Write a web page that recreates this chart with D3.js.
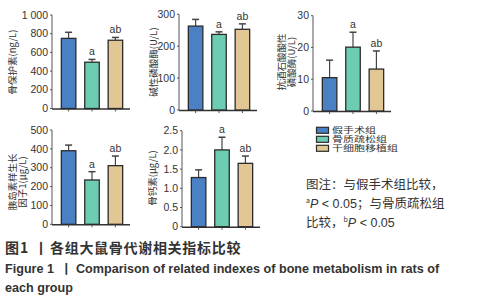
<!DOCTYPE html>
<html><head><meta charset="utf-8">
<script src="https://cdn.jsdelivr.net/npm/d3@7"></script>
<style>
body{margin:0;background:#fff;}
text{font-family:"Liberation Sans","Noto Sans CJK SC",sans-serif;}
.cjk{font-family:"Noto Sans CJK SC",sans-serif;}
</style></head>
<body><svg id="c" width="478" height="300"></svg>
<script>
const groups = ["假手术组","骨质疏松组","干细胞移植组"];
const colors = ["#4a80c4","#6dcdb3","#e2c794"];
const sigLabels = ["","a","ab"];
// panel data
const opgMean = [750, 495, 730];
const opgErr  = [815, 525, 760];
const alpMean = [263, 237, 253];
const alpErr  = [284, 245, 270];
const tracpMean = [10.5, 20.1, 13.2];
const tracpErr  = [16.0, 24.8, 18.9];
const igfMean = [390, 235, 311];
const igfErr  = [420, 279, 362];
const bgpMean = [1.28, 2.0, 1.65];
const bgpErr  = [1.48, 2.33, 1.84];
const opgTicks = [0,200,400,600,800,1000];
const alpTicks = [0,100,200,300];
const tracpTicks = [0,10,20,30];
const igfTicks = [0,100,200,300,400,500];
const bgpTicks = [0,0.5,1.0,1.5,2.0,2.5];

const svg = d3.select("#c");

function panel(o){
  const g = svg.append("g");
  const y = d3.scaleLinear().domain([0,o.max]).range([o.y0,o.y1]);
  const x = d3.scaleBand().domain(groups).range([o.x0+7,o.x0+73]).paddingInner(0.38).paddingOuter(0.1);
  g.append("line").attr("x1",o.x0).attr("x2",o.x0).attr("y1",y(0)).attr("y2",y(o.max)).attr("stroke","#555").attr("stroke-width",1);
  g.append("line").attr("x1",o.x0).attr("x2",o.x0+78).attr("y1",y(0)+0.5).attr("y2",y(0)+0.5).attr("stroke","#333").attr("stroke-width",1.5);
  o.ticks.forEach(t=>{
    g.append("line").attr("x1",o.x0-2).attr("x2",o.x0).attr("y1",y(t)).attr("y2",y(t)).attr("stroke","#555");
    g.append("text").attr("x",o.x0-4).attr("y",y(t)).attr("dy","0.35em").attr("text-anchor","end")
      .attr("font-size",10.5).attr("fill","#333").text(o.fmt(t));
  });
  groups.forEach((k,i)=>{
    const cx = x(k)+x.bandwidth()/2;
    g.append("line").attr("x1",cx).attr("x2",cx).attr("y1",y(0)).attr("y2",y(0)+3).attr("stroke","#555");
    g.append("line").attr("x1",cx).attr("x2",cx).attr("y1",y(o.mean[i])).attr("y2",y(o.err[i])).attr("stroke","#444").attr("stroke-width",1.2);
    g.append("line").attr("x1",cx-3.5).attr("x2",cx+3.5).attr("y1",y(o.err[i])).attr("y2",y(o.err[i])).attr("stroke","#444").attr("stroke-width",1.5);
    g.append("rect").attr("x",x(k)).attr("y",y(o.mean[i])).attr("width",x.bandwidth()).attr("height",y(0)-y(o.mean[i]))
      .attr("fill",colors[i]).attr("stroke","#2b2b2b").attr("stroke-width",1.3);
    if(sigLabels[i]) g.append("text").attr("x",cx).attr("y",y(o.err[i])-4).attr("text-anchor","middle")
      .attr("font-size",10.5).attr("fill","#333").text(sigLabels[i]);
  });
  const lab = g.append("text").attr("class","cjk").attr("transform",`translate(${o.lx},${o.ly}) rotate(-90)`)
    .attr("text-anchor","middle").attr("font-size",9.5).attr("fill","#333");
  o.label.forEach((l,j)=>lab.append("tspan").attr("x",0).attr("dy",j?10:0).text(l));
}
const f0 = d=>d===1000?"1 000":String(d);
const f1 = d=>d===0?"0":d.toFixed(1);
panel({x0:52,y0:108.5,y1:15,max:1000,ticks:opgTicks,fmt:f0,mean:opgMean,err:opgErr,label:["骨保护素(ng/L)"],lx:16,ly:62});
panel({x0:179,y0:110,y1:14.3,max:300,ticks:alpTicks,fmt:f0,mean:alpMean,err:alpErr,label:["碱性磷酸酶(U/L)"],lx:157,ly:62});
panel({x0:313,y0:111,y1:15.7,max:30,ticks:tracpTicks,fmt:f0,mean:tracpMean,err:tracpErr,label:["抗酒石酸酸性","磷酸酶(U/L)"],lx:285,ly:62});
panel({x0:52,y0:224.3,y1:130,max:500,ticks:igfTicks,fmt:f0,mean:igfMean,err:igfErr,label:["胰岛素样生长","因子1(μg/L)"],lx:16,ly:182});
panel({x0:182,y0:226.7,y1:130.7,max:2.5,ticks:bgpTicks,fmt:f1,mean:bgpMean,err:bgpErr,label:["骨钙素(μg/L)"],lx:156,ly:178});

// legend
groups.forEach((gname,i)=>{
  svg.append("rect").attr("x",316.5).attr("y",127.3+i*9).attr("width",12).attr("height",6)
    .attr("fill",colors[i]).attr("stroke","#2b2b2b").attr("stroke-width",1.2);
  svg.append("text").attr("x",332).attr("y",130.3+i*9).attr("dy","0.35em")
    .attr("font-family","'Liberation Sans','Noto Sans CJK SC',sans-serif")
    .attr("font-size",7.8).attr("textLength",gname.length*11).attr("lengthAdjust","spacingAndGlyphs")
    .attr("fill","#333").text(gname);
});
// note
const note = svg.append("g").attr("fill","#333").attr("font-size",12.5);
note.append("text").attr("class","cjk").attr("x",306).attr("y",189).text("图注：与假手术组比较，");
const n2 = note.append("text").attr("class","cjk").attr("x",306).attr("y",208);
n2.append("tspan").attr("font-size",7).attr("dy",-5).text("a");
n2.append("tspan").attr("dy",5).attr("font-style","italic").attr("font-family","Liberation Sans").text("P");
n2.append("tspan").attr("font-family","Liberation Sans").text(" < 0.05");
n2.append("tspan").text("；与骨质疏松组");
const n3 = note.append("text").attr("class","cjk").attr("x",306).attr("y",227);
n3.append("tspan").text("比较，");
n3.append("tspan").attr("font-size",7).attr("dy",-5).text("b");
n3.append("tspan").attr("dy",5).attr("font-style","italic").attr("font-family","Liberation Sans").text("P");
n3.append("tspan").attr("font-family","Liberation Sans").text(" < 0.05");

// caption
const cap = svg.append("text").attr("class","cjk").attr("y",253).attr("font-size",14).attr("font-weight","bold").attr("fill","#333");
cap.append("tspan").attr("x",5).text("图");
cap.append("tspan").attr("x",20).text("1");
cap.append("tspan").attr("x",34).text("丨");
cap.append("tspan").attr("x",50).attr("letter-spacing",0.7).text("各组大鼠骨代谢相关指标比较");
const en = svg.append("text").attr("y",273).attr("font-size",12.6).attr("font-weight","bold").attr("fill","#333");
en.append("tspan").attr("x",5).text("Figure 1");
en.append("tspan").attr("x",60).text("丨");
en.append("tspan").attr("x",76).text("Comparison of related indexes of bone metabolism in rats of");
svg.append("text").attr("x",5).attr("y",292).attr("font-size",12.6).attr("font-weight","bold").attr("fill","#333")
  .text("each group");
</script></body></html>
